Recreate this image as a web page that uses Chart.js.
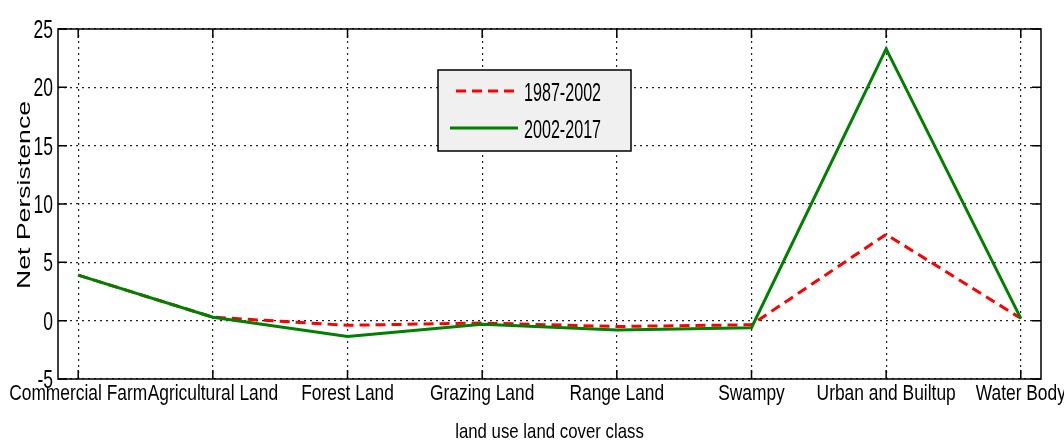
<!DOCTYPE html>
<html>
<head>
<meta charset="utf-8">
<script src="https://cdn.jsdelivr.net/npm/chart.js@4"></script>
<style>
  html, body { margin: 0; padding: 0; background: #fff; }
  #wrap { width: 1064px; height: 446px; position: relative; }
</style>
</head>
<body>
<div id="wrap"><canvas id="chart"></canvas></div>
<script>
const categories = ["Commercial Farm", "Agricultural Land", "Forest Land", "Grazing Land",
  "Range Land", "Swampy", "Urban and Builtup", "Water Body"];
const series1Name = "1987-2002";
const series1 = [3.9, 0.3, -0.4, -0.2, -0.5, -0.35, 7.4, 0.2];
const series2Name = "2002-2017";
const series2 = [3.9, 0.3, -1.35, -0.3, -0.8, -0.6, 23.3, 0.2];
const yTicks = [-5, 0, 5, 10, 15, 20, 25];
const xTitle = "land use land cover class";
const yTitle = "Net Persistence";

const FONT = "'Liberation Sans', Arial, sans-serif";

function pts(arr){ return arr.map((v, i) => ({x: i, y: v})); }

/* text squeezed sideways, the figure was saved with narrow looking glyphs */
function squeezed(ctx, txt, x, y, size, sx, align, rot){
  ctx.save();
  ctx.translate(x, y);
  if(rot) ctx.rotate(rot);
  ctx.scale(sx, 1);
  ctx.font = size + "px " + FONT;
  ctx.fillStyle = "#000";
  ctx.textAlign = align;
  ctx.textBaseline = "alphabetic";
  ctx.fillText(txt, 0, 0);
  ctx.restore();
}

/* box, inward ticks, labels and legend like the matlab figure */
const frame = {
  id: "frame",
  afterDraw(chart){
    const {ctx, chartArea: a, scales} = chart;
    ctx.save();
    ctx.strokeStyle = "#000";
    ctx.lineWidth = 1.5;
    ctx.setLineDash([]);
    ctx.strokeRect(a.left, a.top, a.right - a.left, a.bottom - a.top);
    ctx.beginPath();
    yTicks.forEach(t => {
      const y = scales.y.getPixelForValue(t);
      ctx.moveTo(a.left, y); ctx.lineTo(a.left + 9, y);
      ctx.moveTo(a.right, y); ctx.lineTo(a.right - 9, y);
    });
    categories.forEach((c, i) => {
      const x = scales.x.getPixelForValue(i);
      ctx.moveTo(x, a.bottom); ctx.lineTo(x, a.bottom - 9);
      ctx.moveTo(x, a.top); ctx.lineTo(x, a.top + 9);
    });
    ctx.stroke();
    ctx.restore();

    // tick labels and titles
    yTicks.forEach(t => {
      squeezed(ctx, String(t), 53, scales.y.getPixelForValue(t) + 9, 25, 0.7, "right");
    });
    categories.forEach((c, i) => {
      squeezed(ctx, c, scales.x.getPixelForValue(i), a.bottom + 21, 22, 0.79, "center");
    });
    squeezed(ctx, xTitle, (a.left + a.right) / 2, 438, 21, 0.8, "center");
    squeezed(ctx, yTitle, 30, 195, 18, 1.48, "center", -Math.PI / 2);

    // legend
    ctx.save();
    const lx = 438, ly = 70, lw = 193, lh = 81;
    ctx.fillStyle = "#f0f0f0";
    ctx.fillRect(lx, ly, lw, lh);
    ctx.strokeStyle = "#000";
    ctx.lineWidth = 1.5;
    ctx.strokeRect(lx, ly, lw, lh);
    const rows = [91, 128];
    chart.data.datasets.forEach((ds, k) => {
      ctx.beginPath();
      ctx.strokeStyle = ds.borderColor;
      ctx.lineWidth = ds.borderWidth;
      ctx.setLineDash(ds.borderDash || []);
      ctx.moveTo(ds.borderDash ? 456 : 450, rows[k]);
      ctx.lineTo(518, rows[k]);
      ctx.stroke();
      ctx.setLineDash([]);
      squeezed(ctx, ds.label, 524, rows[k] + 10, 26, 0.62, "left");
    });
    ctx.restore();
  }
};

new Chart(document.getElementById("chart"), {
  type: "line",
  data: {
    datasets: [
      { label: series1Name, data: pts(series1), borderColor: "#ff0000", borderWidth: 3,
        borderDash: [10, 6], pointRadius: 0, tension: 0, order: 1 },
      { label: series2Name, data: pts(series2), borderColor: "#008000", borderWidth: 3,
        pointRadius: 0, tension: 0, order: 0 }
    ]
  },
  options: {
    responsive: true,
    maintainAspectRatio: false,
    animation: false,
    layout: { padding: { top: 29, right: 23, left: 0, bottom: 0 } },
    plugins: { legend: { display: false }, tooltip: { enabled: false } },
    scales: {
      x: {
        type: "linear",
        min: -0.15, max: 7.15,
        afterBuildTicks: s => { s.ticks = categories.map((c, i) => ({value: i})); },
        afterFit: s => { s.height = 67; },
        grid: { color: "#222", lineWidth: 1.2, drawTicks: false },
        border: { display: false, dash: [2, 4] },
        ticks: { display: false }
      },
      y: {
        min: -5, max: 25,
        afterBuildTicks: s => { s.ticks = yTicks.map(v => ({value: v})); },
        afterFit: s => { s.width = 58; },
        grid: { color: "#222", lineWidth: 1.2, drawTicks: false },
        border: { display: false, dash: [2, 4] },
        ticks: { display: false }
      }
    }
  },
  plugins: [frame]
});
</script>
</body>
</html>
